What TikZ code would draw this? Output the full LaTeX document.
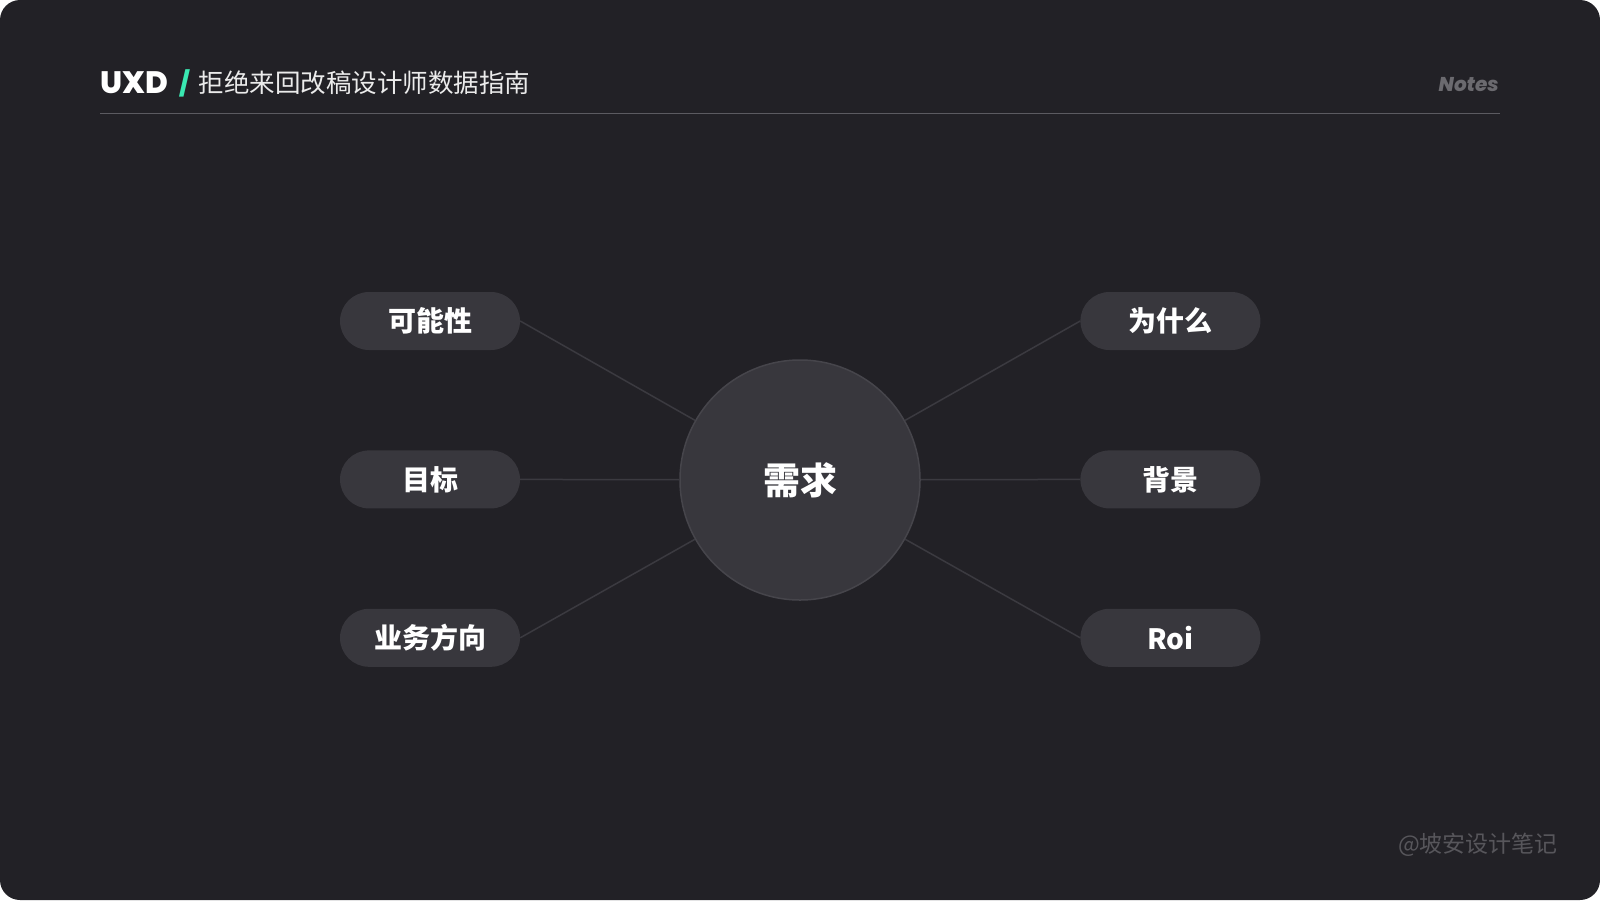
\documentclass[tikz,border=0pt]{standalone}
\usepackage{fontspec}
\usetikzlibrary{positioning}
\newfontfamily\cjk{Noto Sans CJK SC}
\newfontfamily\poppins{Poppins}[BoldFont={* ExtraBold}, BoldItalicFont={* ExtraBold Italic}]
\definecolor{slate}{HTML}{222126}
\definecolor{pillgray}{HTML}{38373D}
\definecolor{hubedge}{HTML}{46454B}
\definecolor{spokegray}{HTML}{3B3A40}
\definecolor{rulegray}{HTML}{5C5B61}
\definecolor{mutedgray}{HTML}{6B6A6F}
\definecolor{markgray}{HTML}{57565B}
\definecolor{mint}{HTML}{3AE8B2}

\begin{document}
\begin{tikzpicture}[
  x=1pt, y=-1pt,
  font=\cjk,
  pill/.style ={fill=pillgray, rounded corners=29pt, inner sep=0pt,
                minimum width=180pt, minimum height=58pt, text=white,
                font=\cjk\bfseries\fontsize{28}{28}\selectfont},
  hub/.style  ={circle, fill=pillgray, draw=hubedge, line width=1.5pt,
                minimum size=240pt, inner sep=0pt, text=white,
                font=\cjk\bfseries\fontsize{37}{37}\selectfont},
  spoke/.style={draw=spokegray, line width=1.5pt},
  head/.style ={inner sep=0pt, anchor=west, text=white}
]

% page: white outside the rounded dark card
\fill[white] (0,0) rectangle (1600,900);
\fill[slate, rounded corners=20pt] (0,0) rectangle (1600,900);

% header
\node[head, font=\poppins\bfseries\fontsize{31}{31}\selectfont] (uxd) at (100,83) {UXD};
\node[head, right=11pt of uxd, text=mint,
      font=\poppins\bfseries\fontsize{24}{24}\selectfont] (slash) {/};
\node[head, right=9pt of slash, text=white!92!black,
      font=\cjk\fontsize{25.5}{25.5}\selectfont] (title) {拒绝来回改稿设计师数据指南};
\node[inner sep=0pt, anchor=east, text=mutedgray,
      font=\poppins\bfseries\itshape\fontsize{20}{20}\selectfont] (notes) at (1499,85) {Notes};
\coordinate (ruleL) at (100,113);
\coordinate (ruleR) at (1500,113);
\draw[rulegray, line width=1pt] (ruleL) -- (ruleR);

% hub and the six branches
\node[hub] (need) at (800,480) {需求};

\node[pill] (maybe) at (430,321)        {可能性};
\node[pill, below=100pt of maybe] (goal) {目标};
\node[pill, below=100pt of goal] (biz)   {业务方向};

\node[pill, right=560pt of maybe] (why)  {为什么};
\node[pill, right=560pt of goal] (ctx)   {背景};
\node[pill, right=560pt of biz] (roi)    {Roi};

\draw[spoke] (maybe.east) -- (need);
\draw[spoke] (goal.east)  -- (need);
\draw[spoke] (biz.east)   -- (need);
\draw[spoke] (why.west)   -- (need);
\draw[spoke] (ctx.west)   -- (need);
\draw[spoke] (roi.west)   -- (need);

\node[inner sep=0pt, anchor=east, text=markgray,
      font=\cjk\fontsize{23}{23}\selectfont] (mark) at (1558,845) {@坡安设计笔记};

\end{tikzpicture}
\end{document}
